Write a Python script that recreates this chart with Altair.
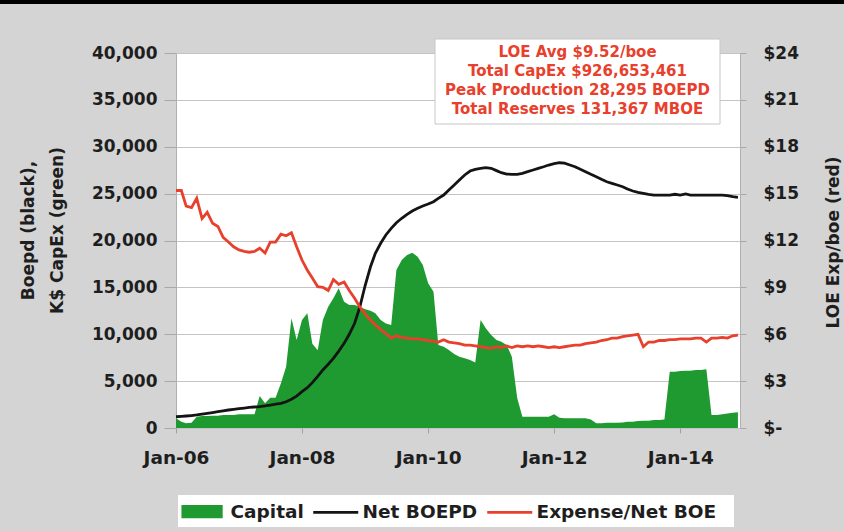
import altair as alt
import pandas as pd

# Monthly series, Jan-2006 .. Dec-2014
capital = [1030, 670, 500, 570, 1210, 1280, 1280, 1320, 1320, 1390,
           1390, 1390, 1460, 1460, 1460, 1460, 3410, 2630, 3240, 3240,
           4770, 6540, 11700, 9390, 11520, 12230, 9000, 8300, 11520, 12940,
           13830, 14900, 13480, 13120, 13120, 12940, 12660, 12520, 12230, 11520,
           11160, 10990, 16850, 17920, 18450, 18700, 18280, 17390, 15430, 14540,
           8850, 8680, 8320, 7890, 7610, 7430, 7250, 7000, 11520, 10630,
           9920, 9390, 9210, 8850, 7610, 3200, 1210, 1210, 1210, 1210,
           1210, 1210, 1460, 1100, 1030, 1030, 1030, 1030, 1030, 920,
           500, 500, 570, 570, 570, 600, 670, 670, 750, 780,
           780, 850, 850, 920, 6010, 6010, 6080, 6100, 6100, 6190,
           6190, 6260, 1390, 1390, 1460, 1560, 1630, 1670]

boepd = [1200, 1240, 1280, 1330, 1390, 1480, 1570, 1650, 1740, 1830,
         1920, 1990, 2060, 2130, 2200, 2240, 2280, 2360, 2450, 2540,
         2630, 2800, 3060, 3400, 3870, 4300, 4840, 5500, 6190, 6800,
         7430, 8200, 9030, 10000, 11170, 12900, 15200, 17200, 18630, 19700,
         20590, 21300, 21900, 22370, 22790, 23150, 23430, 23680, 23890, 24140,
         24500, 24850, 25390, 25920, 26450, 26990, 27410, 27590, 27700, 27770,
         27700, 27450, 27230, 27090, 27060, 27060, 27170, 27340, 27520, 27700,
         27870, 28050, 28200, 28295, 28250, 28050, 27870, 27590, 27340, 27060,
         26810, 26530, 26270, 26100, 25920, 25740, 25490, 25280, 25140, 25030,
         24930, 24850, 24850, 24850, 24850, 24930, 24850, 24960, 24850, 24850,
         24850, 24850, 24850, 24850, 24850, 24780, 24670, 24600]

loe = [15.2, 15.2, 14.2, 14.1, 14.7, 13.4, 13.8, 13.1, 12.9, 12.2,
       11.9, 11.6, 11.4, 11.3, 11.25, 11.3, 11.5, 11.2, 11.9, 11.9,
       12.4, 12.3, 12.5, 11.6, 10.75, 10.1, 9.6, 9.05, 9.0, 8.8,
       9.5, 9.2, 9.35, 8.8, 8.3, 7.75, 7.3, 6.9, 6.6, 6.3,
       6.05, 5.75, 5.9, 5.8, 5.75, 5.7, 5.7, 5.65, 5.6, 5.55,
       5.5, 5.65, 5.5, 5.45, 5.4, 5.3, 5.3, 5.25, 5.2, 5.15,
       5.1, 5.2, 5.15, 5.25, 5.15, 5.25, 5.2, 5.25, 5.2, 5.25,
       5.2, 5.15, 5.2, 5.15, 5.2, 5.25, 5.3, 5.3, 5.4, 5.45,
       5.5, 5.6, 5.65, 5.75, 5.75, 5.85, 5.9, 5.95, 6.0, 5.2,
       5.5, 5.5, 5.6, 5.6, 5.65, 5.65, 5.7, 5.7, 5.7, 5.75,
       5.75, 5.5, 5.75, 5.75, 5.8, 5.75, 5.9, 5.95]

months = pd.date_range("2006-01-01", periods=len(capital), freq="MS").strftime("%Y-%m-%d").tolist()

series_names = ["Capital", "Net BOEPD", "Expense/Net BOE"]
tick_years = [2006, 2008, 2010, 2012, 2014]
left_ticks = list(range(0, 40001, 5000))
right_ticks = list(range(0, 25, 3))
summary_lines = [
    "LOE Avg $9.52/boe",
    "Total CapEx $926,653,461",
    "Peak Production 28,295 BOEPD",
    "Total Reserves 131,367 MBOE",
]

GREEN = "#1f9a30"
BLACK = "#141414"
RED = "#e8402c"
BG = "#d4d4d4"
TXT = "#1e1e1e"
FONT = "DejaVu Sans"

df = pd.DataFrame({"month": months, "capital": capital, "boepd": boepd, "loe": loe})

x_scale = alt.Scale(
    type="utc",
    domain=[alt.DateTime(year=2006, month=1, date=1, utc=True),
            alt.DateTime(year=2014, month=12, date=13, utc=True)],
)
x_axis = alt.Axis(
    values=[alt.DateTime(year=y, month=1, date=1, utc=True) for y in tick_years],
    format="%b-%y", labelFlush=False, labelOverlap=False,
    labelFontSize=18.5, labelPadding=15, tickSize=5, tickColor="#a0a0a0",
    domain=False, grid=False, title=None,
)
left_axis = alt.Axis(
    values=left_ticks, format=",d", orient="left",
    labelFontSize=17, tickSize=12, tickColor="#a8a8a8", labelPadding=7,
    grid=True, gridColor="#c4c4c4", domainColor="#b0b0b0",
    title=["Boepd (black),", "K$ CapEx  (green)"], titleAngle=270,
    titleX=-156, titleY=177, titleAlign="center", titleBaseline="top",
    titleLineHeight=29, titleFontSize=17,
)
right_axis = alt.Axis(
    values=right_ticks, orient="right",
    labelExpr="datum.value == 0 ? '$-' : '$' + datum.value",
    labelFontSize=17, tickSize=6, tickColor="#a8a8a8", labelPadding=17,
    grid=False, domainColor="#b0b0b0",
    title="LOE Exp/boe (red)", titleAngle=270,
    titleX=85, titleY=189, titleAlign="center", titleBaseline="top",
    titleFontSize=17,
)

left_scale = alt.Scale(domain=[0, 40000], nice=False)
x_enc = alt.X("month:T", scale=x_scale, axis=x_axis)

capital_area = alt.Chart(df).mark_area(color=GREEN).encode(
    x=x_enc,
    y=alt.Y("capital:Q", scale=left_scale, axis=left_axis),
)
boepd_line = alt.Chart(df).mark_line(color=BLACK, strokeWidth=2.8).encode(
    x=x_enc,
    y=alt.Y("boepd:Q", scale=left_scale, axis=left_axis),
)
loe_line = alt.Chart(df).mark_line(color=RED, strokeWidth=2.8).encode(
    x=x_enc,
    y=alt.Y("loe:Q", scale=alt.Scale(domain=[0, 24], nice=False), axis=right_axis),
)

# Legend entries: a filled swatch for the area, short strokes for the lines
RECT_PATH = "M-5.2,-0.75L0.29,-0.75L0.29,0.75L-5.2,0.75Z"
LINE_PATH = "M-5.43,0L1,0"
legend = alt.Legend(
    orient="none", legendX=27, legendY=442, direction="horizontal",
    padding=7, title=None,
    labelFont=FONT, labelFontWeight="bold", labelFontSize=18.5, labelColor=TXT,
    labelOffset=2, labelLimit=300, columnPadding=3,
    symbolSize=196, symbolStrokeWidth=2.8, symbolOpacity=1,
)
legend_df = pd.DataFrame({"series": series_names})
legend_pts = alt.Chart(legend_df).mark_point(filled=True, size=196, strokeWidth=2.8).encode(
    x=alt.value(-400),
    y=alt.value(-400),
    fill=alt.Fill("series:N", scale=alt.Scale(domain=series_names, range=[GREEN, "transparent", "transparent"]), legend=legend),
    stroke=alt.Stroke("series:N", scale=alt.Scale(domain=series_names, range=[GREEN, BLACK, RED]), legend=legend),
    shape=alt.Shape("series:N", scale=alt.Scale(domain=series_names, range=[RECT_PATH, LINE_PATH, LINE_PATH]), legend=legend),
)

one = pd.DataFrame({"k": [0]})
legend_box = alt.Chart(one).mark_rect(fill="white").encode(
    x=alt.value(2), x2=alt.value(558), y=alt.value(442), y2=alt.value(474),
)
summary_box = alt.Chart(one).mark_rect(fill="white", stroke="#c6c6c6", strokeWidth=1).encode(
    x=alt.value(259), x2=alt.value(544), y=alt.value(-14), y2=alt.value(71),
)
summary_text = alt.Chart(one).mark_text(
    text=summary_lines, font=FONT, fontWeight="bold", fontSize=15, color=RED,
    lineHeight=19, align="center", baseline="middle",
).encode(x=alt.value(401.5), y=alt.value(-1))
top_band = alt.Chart(one).mark_rect(color="black").encode(
    x=alt.value(-176), x2=alt.value(668), y=alt.value(-53), y2=alt.value(-49),
)

chart = alt.layer(
    legend_box,
    alt.layer(capital_area, boepd_line),
    loe_line,
    legend_pts,
    summary_box,
    summary_text,
    top_band,
).resolve_scale(y="independent").properties(
    width=564, height=375,
    padding={"left": 176, "top": 53, "right": 104, "bottom": 103},
    autosize=alt.AutoSizeParams(type="none"),
    background=BG,
).configure_view(
    fill="white", stroke=None,
).configure_axis(
    labelFont=FONT, labelFontWeight="bold", labelColor=TXT,
    titleFont=FONT, titleFontWeight="bold", titleColor=TXT,
)

chart.save("out.html", embed_options={"renderer": "svg", "actions": False})
